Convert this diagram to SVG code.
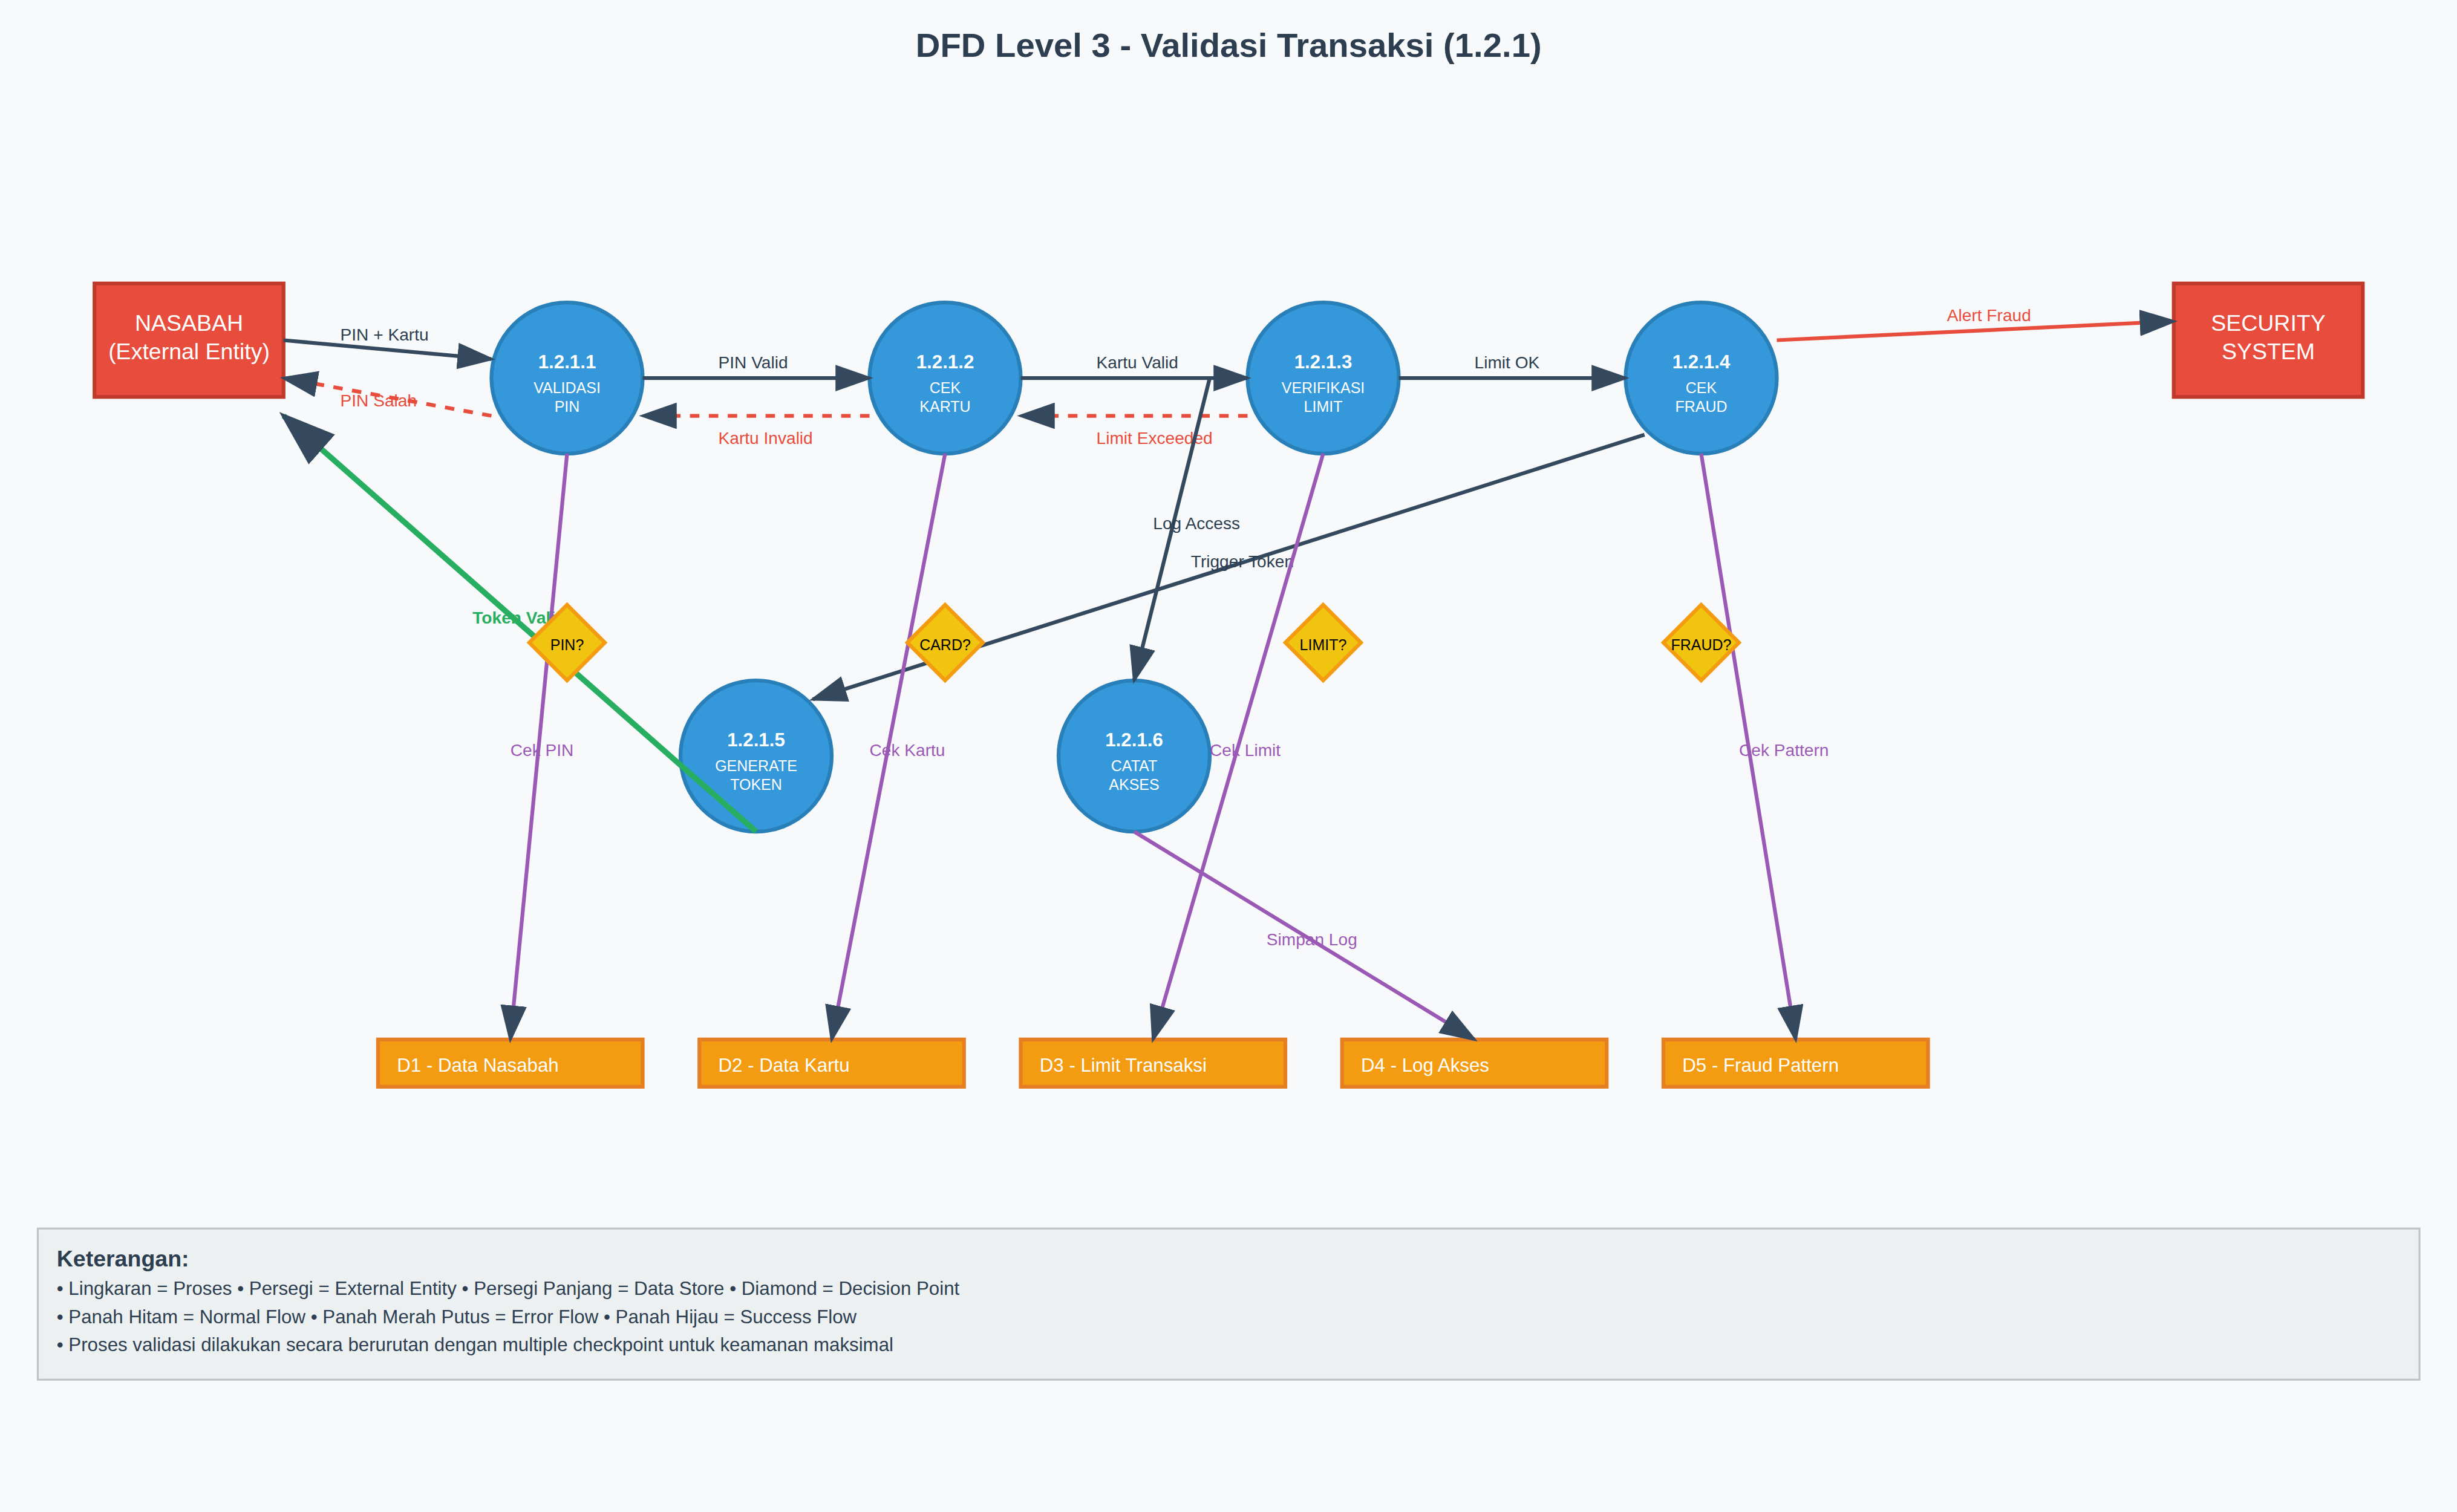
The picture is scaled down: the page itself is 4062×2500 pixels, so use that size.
<svg xmlns="http://www.w3.org/2000/svg" width="4062" height="2500" viewBox="0 0 4062 2500">
<style>
text{font-family:"Liberation Sans",Arial,Helvetica,sans-serif;}
.title{font-size:18px;font-weight:bold;fill:#2c3e50;}
.ent rect{fill:#e74c3c;stroke:#c0392b;stroke-width:2;}
.ent text{font-size:12px;fill:#fff;text-anchor:middle;}
.proc circle{fill:#3498db;stroke:#2980b9;stroke-width:2;}
.proc text{fill:#fff;text-anchor:middle;font-size:8px;}
.proc .pid{font-size:10px;font-weight:bold;}
.store rect{fill:#f39c12;stroke:#e67e22;stroke-width:2;}
.store text{font-size:10px;fill:#fff;}
.dec polygon{fill:#f1c40f;stroke:#f39c12;stroke-width:2;}
.dec text{font-size:8px;fill:#000;text-anchor:middle;}
.flow{stroke:#34495e;stroke-width:2;fill:none;marker-end:url(#arrow);}
.err{stroke:#e74c3c;stroke-width:2;stroke-dasharray:5,5;fill:none;marker-end:url(#arrow);}
.alert{stroke:#e74c3c;stroke-width:2;fill:none;marker-end:url(#arrow);}
.ok{stroke:#27ae60;stroke-width:3;fill:none;marker-end:url(#arrow);}
.data{stroke:#9b59b6;stroke-width:2;fill:none;marker-end:url(#arrow);}
.lbl{font-size:9px;fill:#2c3e50;}
.lerr{font-size:9px;fill:#e74c3c;}
.lok{font-size:9px;fill:#27ae60;font-weight:bold;}
.ldata{font-size:9px;fill:#9b59b6;}
.leg rect{fill:#ecf0f1;stroke:#bdc3c7;stroke-width:1;}
.leg text{fill:#2c3e50;font-size:10px;}
.leg .lh{font-size:12px;font-weight:bold;}
</style>
<defs>
<marker id="arrow" markerWidth="10" markerHeight="7" refX="9" refY="3.5" orient="auto">
<polygon points="0 0, 10 3.5, 0 7" fill="#34495e"/>
</marker>
</defs>
<rect x="0" y="0" width="4062" height="2500" fill="#f8f9fa"/>
<g transform="scale(3.125)">
<text class="title" x="650" y="30" text-anchor="middle">DFD Level 3 - Validasi Transaksi (1.2.1)</text>

<g id="nasabah" class="ent">
<rect x="50" y="150" width="100" height="60"/>
<text x="100" y="175">NASABAH</text>
<text x="100" y="190">(External Entity)</text>
</g>
<g id="security" class="ent">
<rect x="1150" y="150" width="100" height="60"/>
<text x="1200" y="175">SECURITY</text>
<text x="1200" y="190">SYSTEM</text>
</g>

<g id="p1211" class="proc">
<circle cx="300" cy="200" r="40"/>
<text class="pid" x="300" y="195">1.2.1.1</text>
<text x="300" y="208">VALIDASI</text>
<text x="300" y="218">PIN</text>
</g>
<g id="p1212" class="proc">
<circle cx="500" cy="200" r="40"/>
<text class="pid" x="500" y="195">1.2.1.2</text>
<text x="500" y="208">CEK</text>
<text x="500" y="218">KARTU</text>
</g>
<g id="p1213" class="proc">
<circle cx="700" cy="200" r="40"/>
<text class="pid" x="700" y="195">1.2.1.3</text>
<text x="700" y="208">VERIFIKASI</text>
<text x="700" y="218">LIMIT</text>
</g>
<g id="p1214" class="proc">
<circle cx="900" cy="200" r="40"/>
<text class="pid" x="900" y="195">1.2.1.4</text>
<text x="900" y="208">CEK</text>
<text x="900" y="218">FRAUD</text>
</g>
<g id="p1215" class="proc">
<circle cx="400" cy="400" r="40"/>
<text class="pid" x="400" y="395">1.2.1.5</text>
<text x="400" y="408">GENERATE</text>
<text x="400" y="418">TOKEN</text>
</g>
<g id="p1216" class="proc">
<circle cx="600" cy="400" r="40"/>
<text class="pid" x="600" y="395">1.2.1.6</text>
<text x="600" y="408">CATAT</text>
<text x="600" y="418">AKSES</text>
</g>

<g id="d1" class="store">
<rect x="200" y="550" width="140" height="25"/>
<text x="210" y="567">D1 - Data Nasabah</text>
</g>
<g id="d2" class="store">
<rect x="370" y="550" width="140" height="25"/>
<text x="380" y="567">D2 - Data Kartu</text>
</g>
<g id="d3" class="store">
<rect x="540" y="550" width="140" height="25"/>
<text x="550" y="567">D3 - Limit Transaksi</text>
</g>
<g id="d4" class="store">
<rect x="710" y="550" width="140" height="25"/>
<text x="720" y="567">D4 - Log Akses</text>
</g>
<g id="d5" class="store">
<rect x="880" y="550" width="140" height="25"/>
<text x="890" y="567">D5 - Fraud Pattern</text>
</g>

<g id="connectors">
<line class="flow" x1="150" y1="180" x2="260" y2="190"/>
<text class="lbl" x="180" y="180">PIN + Kartu</text>
<line class="flow" x1="340" y1="200" x2="460" y2="200"/>
<text class="lbl" x="380" y="195">PIN Valid</text>
<line class="flow" x1="540" y1="200" x2="660" y2="200"/>
<text class="lbl" x="580" y="195">Kartu Valid</text>
<line class="flow" x1="740" y1="200" x2="860" y2="200"/>
<text class="lbl" x="780" y="195">Limit OK</text>
<line class="err" x1="260" y1="220" x2="150" y2="200"/>
<text class="lerr" x="180" y="215">PIN Salah</text>
<line class="err" x1="460" y1="220" x2="340" y2="220"/>
<text class="lerr" x="380" y="235">Kartu Invalid</text>
<line class="err" x1="660" y1="220" x2="540" y2="220"/>
<text class="lerr" x="580" y="235">Limit Exceeded</text>
<line class="alert" x1="940" y1="180" x2="1150" y2="170"/>
<text class="lerr" x="1030" y="170">Alert Fraud</text>
<line class="flow" x1="870" y1="230" x2="430" y2="370"/>
<text class="lbl" x="630" y="300">Trigger Token</text>
<line class="flow" x1="640" y1="200" x2="600" y2="360"/>
<text class="lbl" x="610" y="280">Log Access</text>
<line class="ok" x1="400" y1="440" x2="150" y2="220"/>
<text class="lok" x="250" y="330">Token Valid</text>
<line class="data" x1="300" y1="240" x2="270" y2="550"/>
<text class="ldata" x="270" y="400">Cek PIN</text>
<line class="data" x1="500" y1="240" x2="440" y2="550"/>
<text class="ldata" x="460" y="400">Cek Kartu</text>
<line class="data" x1="700" y1="240" x2="610" y2="550"/>
<text class="ldata" x="640" y="400">Cek Limit</text>
<line class="data" x1="600" y1="440" x2="780" y2="550"/>
<text class="ldata" x="670" y="500">Simpan Log</text>
<line class="data" x1="900" y1="240" x2="950" y2="550"/>
<text class="ldata" x="920" y="400">Cek Pattern</text>
</g>

<g id="dec-pin" class="dec">
<polygon points="300,320 320,340 300,360 280,340"/>
<text x="300" y="344">PIN?</text>
</g>
<g id="dec-card" class="dec">
<polygon points="500,320 520,340 500,360 480,340"/>
<text x="500" y="344">CARD?</text>
</g>
<g id="dec-limit" class="dec">
<polygon points="700,320 720,340 700,360 680,340"/>
<text x="700" y="344">LIMIT?</text>
</g>
<g id="dec-fraud" class="dec">
<polygon points="900,320 920,340 900,360 880,340"/>
<text x="900" y="344">FRAUD?</text>
</g>

<g id="legend" class="leg">
<rect x="20" y="650" width="1260" height="80"/>
<text class="lh" x="30" y="670">Keterangan:</text>
<text x="30" y="685">• Lingkaran = Proses • Persegi = External Entity • Persegi Panjang = Data Store • Diamond = Decision Point</text>
<text x="30" y="700">• Panah Hitam = Normal Flow • Panah Merah Putus = Error Flow • Panah Hijau = Success Flow</text>
<text x="30" y="715">• Proses validasi dilakukan secara berurutan dengan multiple checkpoint untuk keamanan maksimal</text>
</g>
</g>
</svg>
